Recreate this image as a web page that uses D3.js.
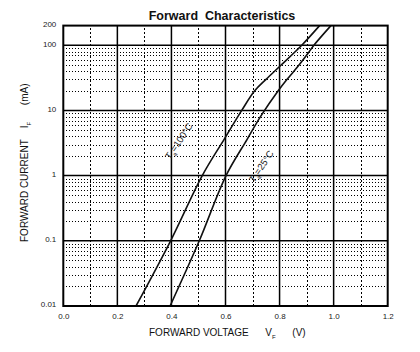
<!DOCTYPE html>
<html>
<head>
<meta charset="utf-8">
<script src="https://cdn.jsdelivr.net/npm/d3@7"></script>
<style>
    body { margin: 0; background: #fff; }
    svg { display: block; font-family: "Liberation Sans", Arial, sans-serif; }
</style>
</head>
<body>
<svg id="chart" width="420" height="352"></svg>
<script>

// Tick values
const voltTicks = [0.0, 0.2, 0.4, 0.6, 0.8, 1.0, 1.2];
const voltMinor = [0.1, 0.3, 0.5, 0.7, 0.9, 1.1];
const currentTicks = [0.01, 0.1, 1, 10, 100, 200];
const currentLabels = ["0.01", "0.1", "1", "10", "100", "200"];
const decades = [0.01, 0.1, 1, 10];

// Curves: current (mA) and forward voltage (V)
const current100 = [0.01, 0.1, 1, 3.6, 10, 20, 30, 48, 100, 200];
const volts100 = [0.269, 0.397, 0.514, 0.595, 0.66, 0.708, 0.75, 0.802, 0.882, 0.948];
const current25 = [0.01, 0.1, 1, 3.6, 8.1, 20, 30, 48, 76, 100, 200];
const volts25 = [0.395, 0.503, 0.602, 0.68, 0.73, 0.795, 0.828, 0.869, 0.906, 0.927, 0.99];

const margin = {left: 63.3, right: 32.3, top: 25.6, bottom: 46};
const width = 420, height = 352;

const svg = d3.select("#chart");

const x = d3.scaleLinear()
    .domain([0, 1.2])
    .range([margin.left, width - margin.right]);
const y = d3.scaleLog()
    .domain([0.01, 200])
    .range([height - margin.bottom, margin.top]);

// Minor horizontal grid: 2..9 in each decade
const minorCurrents = [];
for (let d of decades)
    for (let k = 2; k <= 9; k++)
        minorCurrents.push(d * k);

const grid = svg.append("g");

grid.selectAll(".hminor")
    .data(minorCurrents)
    .join("line")
    .attr("x1", Math.round(x(0))).attr("x2", x(1.2))
    .attr("y1", d => Math.round(y(d)) + 0.5).attr("y2", d => Math.round(y(d)) + 0.5)
    .attr("stroke", "#000")
    .attr("stroke-width", 1)
    .attr("stroke-dasharray", "1,2");

grid.selectAll(".vminor")
    .data(voltMinor)
    .join("line")
    .attr("x1", d => Math.round(x(d)) + 0.5).attr("x2", d => Math.round(x(d)) + 0.5)
    .attr("y1", y(0.01)).attr("y2", y(200))
    .attr("stroke", "#000")
    .attr("stroke-width", 1)
    .attr("stroke-dasharray", "2,2");

grid.selectAll(".hmajor")
    .data([0.1, 1, 10, 100])
    .join("line")
    .attr("x1", x(0)).attr("x2", x(1.2))
    .attr("y1", d => y(d)).attr("y2", d => y(d))
    .attr("stroke", "#000")
    .attr("stroke-width", 1.5);

grid.selectAll(".vmajor")
    .data(voltTicks.slice(1, -1))
    .join("line")
    .attr("x1", d => x(d)).attr("x2", d => x(d))
    .attr("y1", y(0.01)).attr("y2", y(200))
    .attr("stroke", "#000")
    .attr("stroke-width", 1.5);

// Curves
const line = d3.line()
    .x(d => x(d[0]))
    .y(d => y(d[1]))
    .curve(d3.curveCatmullRom.alpha(0.5));

svg.append("defs").append("clipPath").attr("id", "plotclip")
    .append("rect")
    .attr("x", x(0)).attr("y", y(200))
    .attr("width", x(1.2) - x(0)).attr("height", y(0.01) - y(200));

const curves = svg.append("g").attr("clip-path", "url(#plotclip)");
for (let [vs, is] of [[volts100, current100], [volts25, current25]]) {
    curves.append("path")
        .datum(vs.map((v, i) => [v, is[i]]))
        .attr("fill", "none")
        .attr("stroke", "#111")
        .attr("stroke-width", 1.6)
        .attr("d", line);
}

// Frame
svg.append("rect")
    .attr("x", x(0)).attr("y", y(200))
    .attr("width", x(1.2) - x(0)).attr("height", y(0.01) - y(200))
    .attr("fill", "none")
    .attr("stroke", "#000")
    .attr("stroke-width", 2);

// Axes
const xAxis = svg.append("g")
    .attr("transform", `translate(0, ${y(0.01) + 4})`)
    .call(d3.axisBottom(x).tickValues(voltTicks).tickSize(0).tickFormat(d3.format(".1f")));
const yAxis = svg.append("g")
    .attr("transform", `translate(${x(0) - 4}, 0)`)
    .call(d3.axisLeft(y).tickValues(currentTicks).tickSize(0)
        .tickFormat((d, i) => currentLabels[i]));
for (let ax of [xAxis, yAxis]) {
    ax.select(".domain").remove();
    ax.selectAll("text")
        .attr("font-size", 8)
        .attr("font-family", "Liberation Sans, Arial, sans-serif")
        .attr("fill", "#222");
}
yAxis.selectAll("text").attr("dy", "0.1em");

// Title
svg.append("text")
    .attr("x", 222).attr("y", 20)
    .attr("text-anchor", "middle")
    .attr("font-size", 12.5)
    .attr("font-weight", "bold")
    .attr("fill", "#111")
    .style("white-space", "pre")
    .text("Forward  Characteristics");

// X title
const xt = svg.append("text")
    .attr("x", 149).attr("y", 336)
    .attr("font-size", 10)
    .attr("fill", "#111")
    .style("white-space", "pre");
xt.append("tspan").text("FORWARD VOLTAGE      V");
xt.append("tspan").attr("font-size", 6).attr("dy", 3).text("F");
xt.append("tspan").attr("dy", -3).text("      (V)");

// Y title
const yt = svg.append("text")
    .attr("transform", "translate(28, 242) rotate(-90)")
    .attr("font-size", 10)
    .attr("fill", "#111")
    .style("white-space", "pre");
yt.append("tspan").text("FORWARD CURRENT    I");
yt.append("tspan").attr("font-size", 6).attr("dy", 3).text("F");
yt.append("tspan").attr("dy", -3).text("      (mA)");

// Curve labels
function tempLabel(px, py, temp) {
    const t = svg.append("text")
        .attr("transform", `translate(${px}, ${py}) rotate(-56)`)
        .attr("font-size", 9.5)
        .attr("fill", "#222")
        .style("white-space", "pre");
    t.append("tspan").text("T");
    t.append("tspan").attr("font-size", 6).attr("dy", 3).text("a");
    t.append("tspan").attr("dy", -3).text(`=${temp}\u00B0C`);
}
tempLabel(170, 160, 100);
tempLabel(254, 183, 25);

</script>
</body>
</html>
